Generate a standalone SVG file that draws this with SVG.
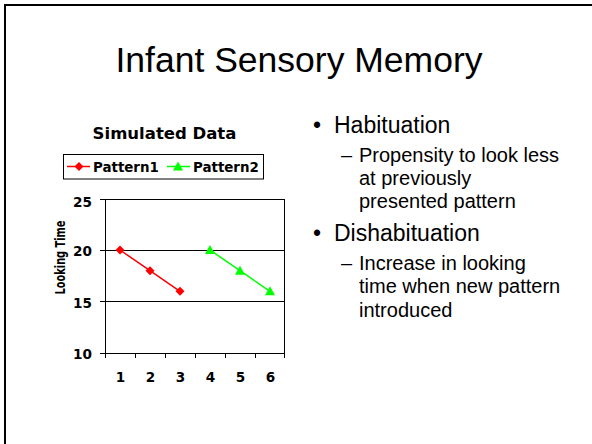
<svg xmlns="http://www.w3.org/2000/svg" width="592" height="444" viewBox="0 0 592 444">
<style>
.chart{font-family:"DejaVu Sans","Verdana",sans-serif;font-weight:bold;fill:#000}
.body{font-family:"Liberation Sans",Arial,sans-serif;fill:#000}
.grid{stroke:#000;stroke-width:1;fill:none}
.red{stroke:#FF0000;stroke-width:1.5;fill:none}
.green{stroke:#00FF00;stroke-width:1.5;fill:none}
</style>
<defs>
<path id="dia" d="M0,-4.5 L4.5,0 L0,4.5 L-4.5,0 Z" fill="#FF0000"/>
<path id="tri" d="M0,-5 L5,4 L-5,4 Z" fill="#00FF00"/>
</defs>
<rect width="592" height="444" fill="#fff"/>
<path d="M5,444 V5 H592" fill="none" stroke="#000" stroke-width="2"/>
<g id="title">
<text x="299" y="72" class="body" font-size="35.5" text-anchor="middle">Infant Sensory Memory</text>
</g>
<g id="chart">
<text x="164.5" y="139" class="chart" font-size="16.5" text-anchor="middle">Simulated Data</text>
<rect x="63.5" y="154.5" width="200" height="24.5" fill="#fff" stroke="#000" stroke-width="1"/>
<line x1="67" y1="166.5" x2="90" y2="166.5" class="red"/>
<use href="#dia" x="79" y="166.5"/>
<text x="93" y="171.5" class="chart" font-size="13.4">Pattern1</text>
<line x1="167" y1="166.5" x2="190" y2="166.5" class="green"/>
<use href="#tri" x="178" y="166.5"/>
<text x="193" y="171.5" class="chart" font-size="13.4">Pattern2</text>
<line x1="105" y1="199.5" x2="285" y2="199.5" class="grid"/>
<line x1="105" y1="250.5" x2="285" y2="250.5" class="grid"/>
<line x1="105" y1="301.5" x2="285" y2="301.5" class="grid"/>
<line x1="284.5" y1="199" x2="284.5" y2="353" class="grid"/>
<path d="M105.5,199 V353.5 H285 M100,199.5 H105 M100,250.5 H105 M100,301.5 H105 M100,353.5 H105 M105.5,353 V358 M135.5,353 V358 M165.5,353 V358 M195.5,353 V358 M225.5,353 V358 M255.5,353 V358 M284.5,353 V358" class="grid"/>
<g class="chart" font-size="13.6" text-anchor="end">
<text x="92" y="206.5">25</text>
<text x="92" y="256">20</text>
<text x="92" y="307.5">15</text>
<text x="92" y="358.5">10</text>
</g>
<g class="chart" font-size="13.6" text-anchor="middle">
<text x="120.5" y="381.5">1</text>
<text x="150.5" y="381.5">2</text>
<text x="180.5" y="381.5">3</text>
<text x="210.5" y="381.5">4</text>
<text x="240.5" y="381.5">5</text>
<text x="270.5" y="381.5">6</text>
</g>
<text transform="translate(64.5,257.5) rotate(-90)" class="chart" font-size="14" text-anchor="middle" textLength="74" lengthAdjust="spacingAndGlyphs">Looking Time</text>
<polyline points="120,250 150,270.7 180,291.3" class="red"/>
<use href="#dia" x="120" y="250"/>
<use href="#dia" x="150" y="270.7"/>
<use href="#dia" x="180" y="291.3"/>
<polyline points="210,250 240,270.7 270,291.3" class="green"/>
<use href="#tri" x="210" y="250"/>
<use href="#tri" x="240" y="270.7"/>
<use href="#tri" x="270" y="291.3"/>
</g>
<g id="bullets" class="body">
<text x="313" y="133" font-size="23">•</text>
<text x="334" y="133" font-size="23">Habituation</text>
<text x="341" y="161.5" font-size="20">–</text>
<text x="359" y="161.5" font-size="20">Propensity to look less</text>
<text x="359" y="184.5" font-size="20">at previously</text>
<text x="359" y="208" font-size="20">presented pattern</text>
<text x="313" y="241" font-size="23">•</text>
<text x="334" y="241" font-size="23">Dishabituation</text>
<text x="341" y="269.5" font-size="20">–</text>
<text x="359" y="269.5" font-size="20">Increase in looking</text>
<text x="359" y="293" font-size="20">time when new pattern</text>
<text x="359" y="317" font-size="20">introduced</text>
</g>
</svg>
